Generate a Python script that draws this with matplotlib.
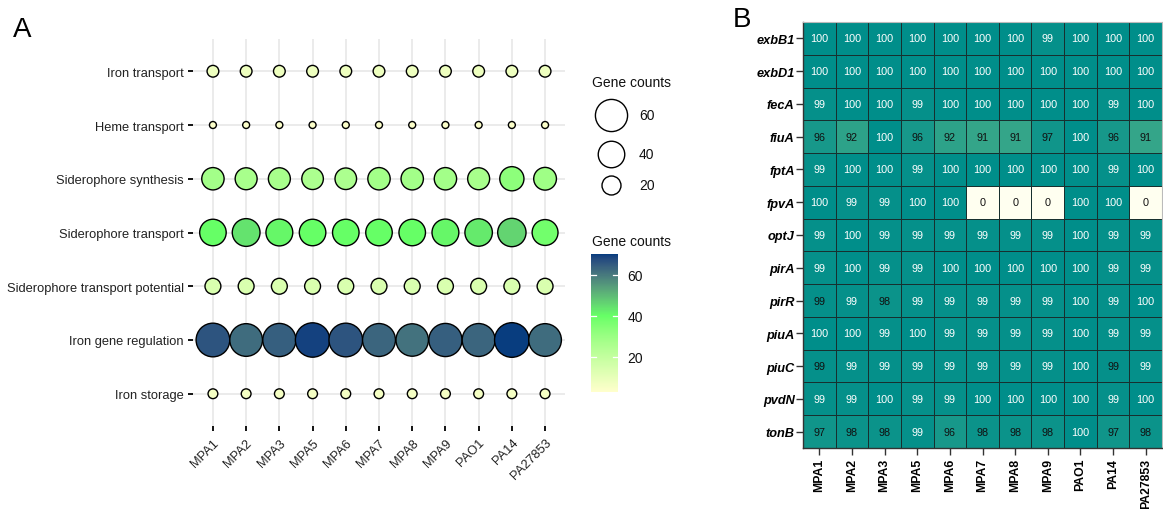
import numpy as np
import matplotlib
matplotlib.use("Agg")
import matplotlib.pyplot as plt
from matplotlib.colors import ListedColormap, LinearSegmentedColormap, Normalize
from matplotlib.cm import ScalarMappable

plt.rcParams["font.family"] = ["Liberation Sans", "DejaVu Sans"]

# ---------------- data ----------------
strains = ["MPA1", "MPA2", "MPA3", "MPA5", "MPA6", "MPA7", "MPA8", "MPA9",
           "PAO1", "PA14", "PA27853"]

functions = ["Iron transport", "Heme transport", "Siderophore synthesis",
             "Siderophore transport", "Siderophore transport potential",
             "Iron gene regulation", "Iron storage"]

iron_transport = [8, 8, 8, 8, 8, 8, 8, 8, 8, 8, 8]
heme_transport = [4, 4, 4, 4, 4, 4, 4, 4, 4, 4, 4]
siderophore_synthesis = [28, 27, 27, 26, 26, 28, 28, 28, 27, 33, 29]
siderophore_transport = [40, 44, 41, 40, 40, 40, 40, 41, 43, 46, 38]
siderophore_transport_potential = [14, 14, 14, 14, 14, 14, 14, 14, 14, 14, 14]
iron_gene_regulation = [66, 62, 64, 69, 66, 63, 61, 64, 63, 70, 62]
iron_storage = [6, 6, 6, 6, 6, 6, 6, 6, 6, 6, 6]

gene_counts = [iron_transport, heme_transport, siderophore_synthesis,
               siderophore_transport, siderophore_transport_potential,
               iron_gene_regulation, iron_storage]

count_limits = (3, 70)
size_legend_counts = [60, 40, 20]
colorbar_ticks = [20, 40, 60]

genes = ["exbB1", "exbD1", "fecA", "fiuA", "fptA", "fpvA", "optJ", "pirA",
         "pirR", "piuA", "piuC", "pvdN", "tonB"]

identity = [
    [100, 100, 100, 100, 100, 100, 100, 99, 100, 100, 100],
    [100, 100, 100, 100, 100, 100, 100, 100, 100, 100, 100],
    [99, 100, 100, 99, 100, 100, 100, 100, 100, 99, 100],
    [96, 92, 100, 96, 92, 91, 91, 97, 100, 96, 91],
    [99, 100, 100, 99, 100, 100, 100, 100, 100, 99, 100],
    [100, 99, 99, 100, 100, 0, 0, 0, 100, 100, 0],
    [99, 100, 99, 99, 99, 99, 99, 99, 100, 99, 99],
    [99, 100, 99, 99, 100, 100, 100, 100, 100, 99, 99],
    [99, 99, 98, 99, 99, 99, 99, 99, 100, 99, 100],
    [100, 100, 99, 100, 99, 99, 99, 99, 100, 99, 99],
    [99, 99, 99, 99, 99, 99, 99, 99, 100, 99, 99],
    [99, 99, 100, 99, 99, 100, 100, 100, 100, 99, 100],
    [97, 98, 98, 99, 96, 98, 98, 98, 100, 97, 98],
]
# cells whose rounded 99 sits just below the label-colour threshold
dark_label_cells = [("pirR", "MPA1"), ("piuC", "MPA1"), ("piuC", "PA14")]


# ---------------- helpers ----------------
def _srgb_to_lab(rgb):
    rgb = np.asarray(rgb, float)
    lin = np.where(rgb <= 0.04045, rgb / 12.92, ((rgb + 0.055) / 1.055) ** 2.4)
    m = np.array([[0.4124, 0.3576, 0.1805],
                  [0.2126, 0.7152, 0.0722],
                  [0.0193, 0.1192, 0.9505]])
    xyz = m @ lin / np.array([0.95047, 1.0, 1.08883])
    d = 6 / 29
    f = np.where(xyz > d ** 3, np.cbrt(xyz), xyz / (3 * d * d) + 4 / 29)
    return np.array([116 * f[1] - 16, 500 * (f[0] - f[1]), 200 * (f[1] - f[2])])


def _lab_to_srgb(lab):
    L, a, b = lab
    fy = (L + 16) / 116
    fx = fy + a / 500
    fz = fy - b / 200
    d = 6 / 29
    f = np.array([fx, fy, fz])
    xyz = np.where(f > d, f ** 3, 3 * d * d * (f - 4 / 29))
    xyz = xyz * np.array([0.95047, 1.0, 1.08883])
    minv = np.array([[3.2406, -1.5372, -0.4986],
                     [-0.9689, 1.8758, 0.0415],
                     [0.0557, -0.2040, 1.0570]])
    lin = minv @ xyz
    lin = np.clip(lin, 0, 1)
    rgb = np.where(lin <= 0.0031308, 12.92 * lin, 1.055 * lin ** (1 / 2.4) - 0.055)
    return np.clip(rgb, 0, 1)


def lab_gradient(stops, colors, vmin, vmax, n=256):
    labs = [_srgb_to_lab(matplotlib.colors.to_rgb(c)) for c in colors]
    out = []
    for v in np.linspace(vmin, vmax, n):
        k = np.searchsorted(stops, v, side="right") - 1
        k = min(max(k, 0), len(stops) - 2)
        t = (v - stops[k]) / (stops[k + 1] - stops[k])
        t = min(max(t, 0), 1)
        lab = labs[k] * (1 - t) + labs[k + 1] * t
        out.append(_lab_to_srgb(lab))
    return ListedColormap(out)


DPI = 100
W, H = 1163, 510
EDGE_PT = 1.0


def marker_area(v):
    """Scatter area (pt^2) for a gene count; area grows linearly with count."""
    lo, hi = count_limits
    frac = np.clip((np.asarray(v, float) - lo) / (hi - lo), 0, 1)
    outer_px = 4.5 + 31.5 * np.sqrt(frac)
    inner_pt = np.maximum(outer_px * 72 / DPI - EDGE_PT, 0.8)
    return inner_pt ** 2


count_cmap = lab_gradient([3, 40, 70], ["#ffffcc", "#66ff66", "#083d7f"], *count_limits)
count_norm = Normalize(*count_limits)

ident_cmap = LinearSegmentedColormap.from_list(
    "ident", [(0.0, "#fffff0"), (0.90, "#3aa889"), (1.0, "#008e8a")])

# ---------------- figure ----------------
fig = plt.figure(figsize=(W / DPI, H / DPI), dpi=DPI)


def fig_rect(x0, y0, x1, y1):
    return [x0 / W, 1 - y1 / H, (x1 - x0) / W, (y1 - y0) / H]


# Panel A: bubble chart
ax = fig.add_axes(fig_rect(193, 40, 565, 427))
xs, ys, vals = [], [], []
for i, row in enumerate(gene_counts):
    for j, v in enumerate(row):
        xs.append(j)
        ys.append(i)
        vals.append(v)
vals = np.array(vals)
ax.scatter(xs, ys, s=marker_area(vals), c=vals, cmap=count_cmap, norm=count_norm,
           edgecolors="black", linewidths=EDGE_PT, zorder=3)
ax.set_xlim(-0.6, len(strains) - 0.4)
ax.set_ylim(len(functions) - 0.4, -0.6)
ax.set_xticks(range(len(strains)))
ax.set_xticklabels(strains, rotation=45, ha="right", va="top", rotation_mode="anchor")
ax.set_yticks(range(len(functions)))
ax.set_yticklabels(functions)
ax.tick_params(axis="both", length=3.5, width=1.3, color="black", labelsize=9.3,
               labelcolor="#222222", pad=3)
ax.tick_params(axis="x", pad=4)
ax.grid(True, color="#e9e9e9", linewidth=1.3)
ax.set_axisbelow(True)
for sp in ax.spines.values():
    sp.set_visible(False)

# Legends for panel A drawn on a full-figure overlay in pixel units
ov = fig.add_axes([0, 0, 1, 1], zorder=-1)
ov.set_xlim(0, W)
ov.set_ylim(H, 0)
ov.axis("off")
ov.text(592, 83, "Gene counts", fontsize=10, va="center", ha="left", color="#111111")
for v, yc in zip(size_legend_counts, [116, 155, 186]):
    ov.scatter([611], [yc], s=marker_area(v), facecolors="white",
               edgecolors="black", linewidths=EDGE_PT)
    ov.text(639, yc, str(v), fontsize=10, va="center", ha="left", color="#111111")
ov.text(592, 242, "Gene counts", fontsize=10, va="center", ha="left", color="#111111")

cax = fig.add_axes(fig_rect(591, 255, 618, 393))
cb = fig.colorbar(ScalarMappable(norm=count_norm, cmap=count_cmap), cax=cax)
cb.outline.set_visible(False)
cb.set_ticks(colorbar_ticks)
cax.tick_params(length=0, labelsize=10, pad=7, labelcolor="#111111")
tr = cax.get_yaxis_transform()
for t in colorbar_ticks:
    cax.plot([0, 0.2], [t, t], color="white", lw=0.9, transform=tr)
    cax.plot([0.8, 1], [t, t], color="white", lw=0.9, transform=tr)

# Panel B: identity heatmap
axb = fig.add_axes(fig_rect(803, 23, 1162, 449))
ident = np.array(identity, float)
nr, nc = ident.shape
axb.pcolormesh(np.arange(nc + 1) - 0.5, np.arange(nr + 1) - 0.5, ident,
               cmap=ident_cmap, vmin=0, vmax=100,
               edgecolors="#17302f", linewidth=0.7)
axb.set_xlim(-0.5, nc - 0.5)
axb.set_ylim(nr - 0.5, -0.5)
for r in range(nr):
    for c in range(nc):
        v = identity[r][c]
        dark = v < 99 or (genes[r], strains[c]) in dark_label_cells
        axb.text(c, r, f"{v:d}", ha="center", va="center", fontsize=7.8,
                 color="#111111" if dark else "white")
axb.set_xticks(range(nc))
axb.set_xticklabels(strains, rotation=90, fontweight="bold", fontsize=8.8)
axb.set_yticks(range(nr))
axb.set_yticklabels(genes, fontweight="bold", fontstyle="italic", fontsize=9.2)
axb.tick_params(axis="both", length=5, width=1, color="#333333", labelcolor="black")
axb.tick_params(axis="y", pad=1)
axb.tick_params(axis="x", pad=2)
for side in ("left", "bottom"):
    axb.spines[side].set_color("#333333")
    axb.spines[side].set_linewidth(1.0)
for side in ("top", "right"):
    axb.spines[side].set_color("#bbbbbb")
    axb.spines[side].set_linewidth(0.8)

fig.text(22 / W, 1 - 30 / H, "A", fontsize=20, ha="center", va="center")
fig.text(742 / W, 1 - 20 / H, "B", fontsize=20, ha="center", va="center")

fig.savefig("out.png", dpi=DPI)
